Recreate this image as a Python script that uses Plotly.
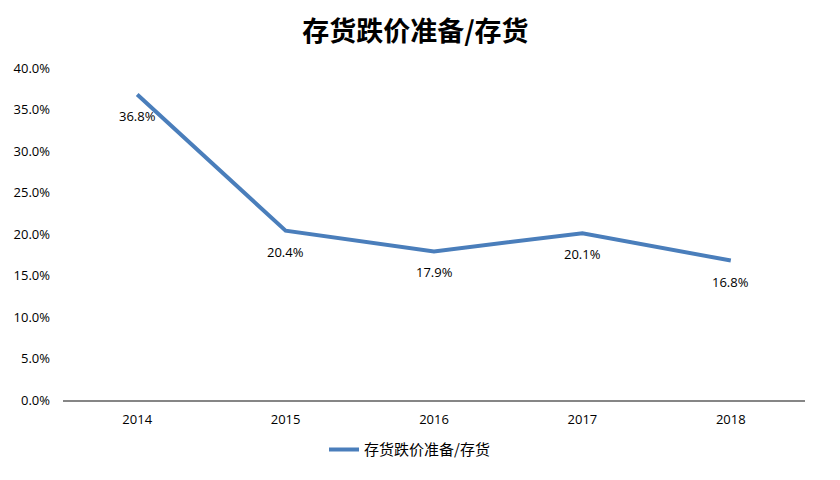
import plotly.graph_objects as go

years = ["2014", "2015", "2016", "2017", "2018"]
values = [36.8, 20.4, 17.9, 20.1, 16.8]
labels = ["36.8%", "20.4%", "17.9%", "20.1%", "16.8%"]
series_name = "存货跌价准备/存货"
title = "存货跌价准备/存货"
y_ticks = [0, 5, 10, 15, 20, 25, 30, 35, 40]
y_tick_text = ["0.0%", "5.0%", "10.0%", "15.0%", "20.0%", "25.0%", "30.0%", "35.0%", "40.0%"]

num_font = "Open Sans, DejaVu Sans"

fig = go.Figure()
fig.add_trace(go.Scatter(
    x=years, y=values, mode="lines", name=series_name,
    line=dict(color="#4A7EBB", width=4),
))
for i, (yv, t) in enumerate(zip(values, labels)):
    fig.add_annotation(x=i, y=yv, xref="x", yref="y", text=t, showarrow=False, yshift=-21,
                       font=dict(size=13, color="#000000", family=num_font))

fig.update_layout(
    width=840, height=480,
    margin=dict(l=55, r=43, t=60, b=88),
    paper_bgcolor="white", plot_bgcolor="white",
    title=dict(text="<b>" + title + "</b>", x=0.485, xanchor="center", y=0.95, yanchor="middle",
               font=dict(size=27, family="Noto Sans CJK SC", color="#000000")),
    showlegend=True,
    legend=dict(orientation="h", x=0.467, xanchor="center", y=-0.1, yanchor="top",
                font=dict(size=15, family="Noto Sans CJK SC", color="#000000")),
    font=dict(family=num_font, size=13, color="#000000"),
)
fig.update_xaxes(type="category", range=[-0.5, 4.5], showgrid=False, showline=True,
                 linecolor="#868686", linewidth=2, ticks="", tickfont=dict(size=13),
                 zeroline=False, ticklabelstandoff=6, automargin=False)
fig.update_yaxes(range=[0, 40], tickvals=y_ticks, ticktext=y_tick_text, showgrid=False,
                 showline=False, zeroline=False, ticks="", tickfont=dict(size=13),
                 ticklabelstandoff=12, automargin=False)

fig.write_html("out.html")
